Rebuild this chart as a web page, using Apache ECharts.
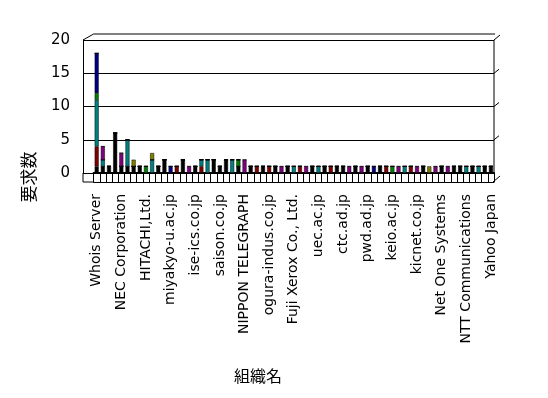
<!DOCTYPE html>
<html>
<head>
<meta charset="utf-8">
<script src="https://cdn.jsdelivr.net/npm/echarts@6/dist/echarts.min.js"></script>
<style>
  html, body { margin: 0; padding: 0; background: #fff; }
  #main { width: 548px; height: 398px; }
</style>
</head>
<body>
<div id="main"></div>
<script>
// organisations, only every 4th name is printed on the axis
var orgs = ['Whois Server','','','','NEC Corporation','','','','HITACHI,Ltd.','','','',
  'miyakyo-u.ac.jp','','','','ise-ics.co.jp','','','','saison.co.jp','','','',
  'NIPPON TELEGRAPH','','','','ogura-indus.co.jp','','','','Fuji Xerox Co., Ltd.','','','',
  'uec.ac.jp','','','','ctc.ad.jp','','','','pwd.ad.jp','','','','keio.ac.jp','','','',
  'kicnet.co.jp','','','','Net One Systems','','','','NTT Communications','','','','Yahoo Japan'];

var yTicks = [0, 5, 10, 15, 20];

// stacked request counts per series colour
var sBlack  = [1,1,1,6,1,1,1,1,0,0,1,2,0,0,2,0,1,0,0,2,1,2,0,1,0,1,0,1,0,1,0,1,0,0,0,1,0,1,0,1,1,0,1,0,1,0,1,0,0,0,0,0,0,1,0,0,1,0,1,1,0,1,0,1,1];
var sMaroon = [3,0,0,0,0,0,0,0,0,0,0,0,0,1,0,0,0,1,0,0,0,0,0,0,0,0,1,0,1,0,0,0,0,1,0,0,0,0,1,0,0,0,0,0,0,0,0,1,0,0,0,1,0,0,0,0,0,0,0,0,0,0,0,0,0];
var sTeal   = [7,1,0,0,0,4,0,0,0,2,0,0,0,0,0,0,0,1,2,0,0,0,2,0,0,0,0,0,0,0,0,0,1,0,0,0,1,0,0,0,0,0,0,0,0,0,0,0,0,0,1,0,0,0,0,0,0,0,0,0,1,0,1,0,0];
var sGreen  = [1,0,0,0,0,0,0,0,1,0,0,0,0,0,0,0,0,0,0,0,0,0,0,1,0,0,0,0,0,0,0,0,0,0,0,0,0,0,0,0,0,0,0,0,0,0,0,0,1,0,0,0,0,0,0,0,0,0,0,0,0,0,0,0,0];
var sNavy   = [6,0,0,0,0,0,0,0,0,0,0,0,1,0,0,0,0,0,0,0,0,0,0,0,0,0,0,0,0,0,0,0,0,0,0,0,0,0,0,0,0,0,0,0,0,1,0,0,0,0,0,0,0,0,0,0,0,0,0,0,0,0,0,0,0];
var sPurple = [0,2,0,0,2,0,0,0,0,0,0,0,0,0,0,1,0,0,0,0,0,0,0,0,2,0,0,0,0,0,1,0,0,0,1,0,0,0,0,0,0,1,0,1,0,0,0,0,0,1,0,0,1,0,0,1,0,1,0,0,0,0,0,0,0];
var sOlive  = [0,0,0,0,0,0,1,0,0,1,0,0,0,0,0,0,0,0,0,0,0,0,0,0,0,0,0,0,0,0,0,0,0,0,0,0,0,0,0,0,0,0,0,0,0,0,0,0,0,0,0,0,0,0,1,0,0,0,0,0,0,0,0,0,0];

var L0 = 83, L1 = 93.6, R = 494, T = 40, B = 173, F = 9, W = 548, H = 398;
var FONT = 'DejaVu Sans';

var chart = echarts.init(document.getElementById('main'));

function bar(name, data, color) {
  return {
    name: name, type: 'bar', stack: 'all', xAxisIndex: 0, yAxisIndex: 1,
    data: data, barWidth: 4, animation: false,
    itemStyle: { color: color, borderColor: '#000', borderWidth: 0.5 }
  };
}

function line(x1, y1, x2, y2) {
  return { type: 'line', silent: true, shape: { x1: x1, y1: y1, x2: x2, y2: y2 },
    style: { stroke: '#000', lineWidth: 1 } };
}

var deco = [
  line(L0, T, L1, T - 6),
  line(L1, T - 6, R + 1, T - 6),
  line(R, T, R + 6, T - 5),
  line(R, T, R, B),
  line(L0, B, L0, B + F),
  line(L0, B + F, L1, B + F),
  line(R - 1, B + F, R + 6, B + 3)
];
yTicks.slice(1, 4).forEach(function (v) {
  var y = B - (B - T) * v / 20;
  deco.push(line(R, y, R + 5, y - 4));
});
deco.push({
  type: 'text', x: 29, y: 177, rotation: Math.PI / 2,
  style: { text: '要求数', font: '17px "Noto Sans CJK JP"', fill: '#000',
    align: 'center', verticalAlign: 'middle' }
});
deco.push({
  type: 'text', x: 258, y: 376,
  style: { text: '組織名', font: '16px "Noto Sans CJK JP"', fill: '#000',
    align: 'center', verticalAlign: 'middle' }
});

var option = {
  backgroundColor: '#fff',
  animation: false,
  grid: [
    { left: L0, right: W - R, top: T, bottom: H - B },
    { left: L1, right: W - R, top: T, bottom: H - B },
    // floor strip with one cell per category
    { left: L1, right: W - R, top: B, bottom: H - B - F }
  ],
  xAxis: [
    {
      type: 'category', gridIndex: 1, data: orgs, boundaryGap: true,
      axisLine: { show: true, lineStyle: { color: '#000', width: 2 } },
      axisTick: { show: false },
      axisLabel: { interval: 3, rotate: 90, margin: 21, color: '#000',
        fontFamily: FONT, fontSize: 14 }
    },
    { type: 'value', gridIndex: 0, show: false, min: 0, max: 1 },
    {
      type: 'category', gridIndex: 2, data: orgs, boundaryGap: true,
      axisLine: { show: true, lineStyle: { color: '#000', width: 1 } },
      axisTick: { show: false }, axisLabel: { show: false },
      splitLine: { show: true, interval: 0, lineStyle: { color: '#000', width: 1 } }
    }
  ],
  yAxis: [
    {
      type: 'value', gridIndex: 0, min: 0, max: 20, interval: 5,
      axisLine: { show: true, lineStyle: { color: '#000' } },
      axisTick: { show: false },
      splitLine: { lineStyle: { color: '#000', width: 1 } },
      axisLabel: { margin: 13, color: '#000', fontFamily: FONT, fontSize: 15 }
    },
    { type: 'value', gridIndex: 1, min: 0, max: 20, show: false },
    { type: 'value', gridIndex: 2, min: 0, max: 1, show: false }
  ],
  series: [
    bar('black', sBlack, '#000000'),
    bar('maroon', sMaroon, '#800000'),
    bar('teal', sTeal, '#008080'),
    bar('green', sGreen, '#008000'),
    bar('navy', sNavy, '#000080'),
    bar('purple', sPurple, '#800080'),
    bar('olive', sOlive, '#808000')
  ],
  graphic: deco
};
chart.setOption(option);
</script>
</body>
</html>
